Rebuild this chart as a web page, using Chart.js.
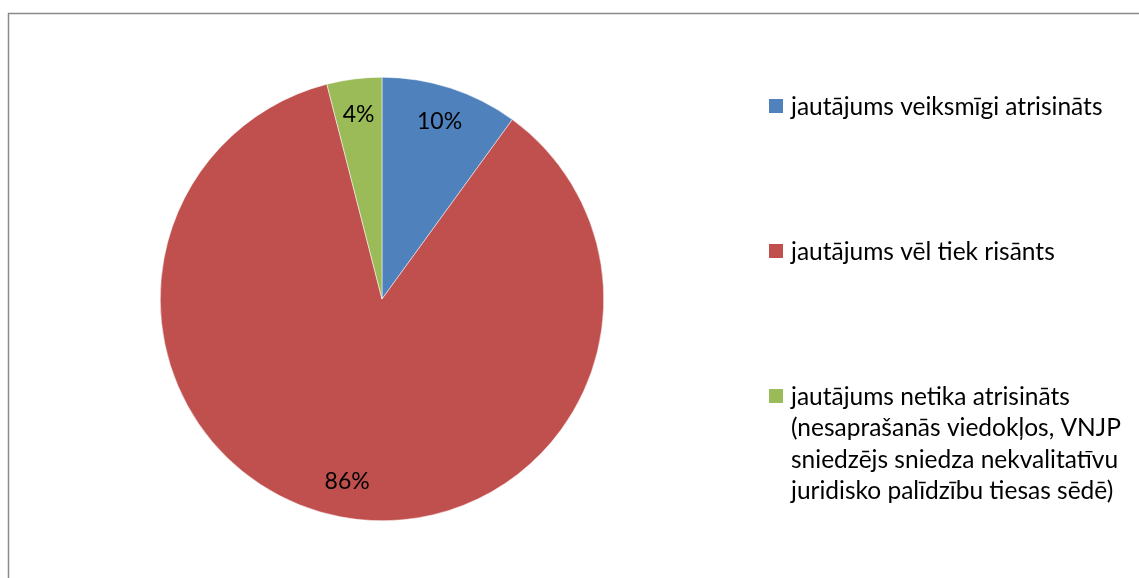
<!DOCTYPE html>
<html>
<head>
<meta charset="utf-8">
<script src="https://cdn.jsdelivr.net/npm/chart.js@4/dist/chart.umd.min.js"></script>
<style>
  html, body { margin: 0; padding: 0; background: #fff; }
  #wrap { width: 1139px; height: 578px; position: relative; }
</style>
</head>
<body>
<div id="wrap"><canvas id="c" width="1139" height="578"></canvas></div>
<script>
// ---- data ----
const categories = [
  ["jautājums veiksmīgi atrisināts"],
  ["jautājums vēl tiek risānts"],
  ["jautājums netika atrisināts", "(nesaprašanās viedokļos, VNJP", "sniedzējs sniedza nekvalitatīvu", "juridisko palīdzību tiesas sēdē)"]
];
const values = [10, 86, 4];
const valueLabels = ["10%", "86%", "4%"];
const colors = ["#4F81BD", "#C0504D", "#9BBB59"];

const FONT = "Lato, 'Open Sans', sans-serif";

const framePlugin = {
  id: 'frame',
  beforeDraw(chart) {
    const ctx = chart.ctx;
    ctx.save();
    ctx.fillStyle = '#fff';
    ctx.fillRect(0, 0, chart.width, chart.height);
    ctx.strokeStyle = '#8a8a8a';
    ctx.lineWidth = 1.5;
    ctx.strokeRect(8.5, 13.5, 1200, 700);
    ctx.restore();
  }
};

const labelPlugin = {
  id: 'pieLabels',
  afterDatasetsDraw(chart) {
    const ctx = chart.ctx;
    const meta = chart.getDatasetMeta(0);
    ctx.save();
    ctx.font = "23px " + FONT;
    ctx.fillStyle = '#000';
    ctx.textAlign = 'center';
    ctx.textBaseline = 'middle';
    meta.data.forEach((arc, i) => {
      const p = arc.getProps(['x', 'y', 'startAngle', 'endAngle', 'outerRadius'], true);
      const mid = (p.startAngle + p.endAngle) / 2;
      const r = p.outerRadius * 0.84;
      ctx.fillText(valueLabels[i], p.x + Math.cos(mid) * r, p.y + Math.sin(mid) * r);
    });
    ctx.restore();
  }
};

const legendPlugin = {
  id: 'sideLegend',
  afterDraw(chart) {
    const ctx = chart.ctx;
    const x0 = 769, box = 14, textX = 791;
    const firstY = 106, gap = 145, lineH = 31.5;
    ctx.save();
    ctx.font = "24.5px " + FONT;
    ctx.textBaseline = 'middle';
    ctx.textAlign = 'left';
    chart.data.labels.forEach((lbl, i) => {
      const y = firstY + i * gap;
      ctx.fillStyle = chart.data.datasets[0].backgroundColor[i];
      ctx.fillRect(x0, y - box / 2, box, box);
      ctx.fillStyle = '#000';
      const lines = Array.isArray(lbl) ? lbl : [lbl];
      lines.forEach((ln, j) => ctx.fillText(ln, textX, y + 1 + j * lineH));
    });
    ctx.restore();
  }
};

new Chart(document.getElementById('c'), {
  type: 'pie',
  data: {
    labels: categories,
    datasets: [{
      data: values,
      backgroundColor: colors,
      borderColor: '#ffffff',
      borderWidth: 0.5
    }]
  },
  options: {
    responsive: false,
    animation: false,
    devicePixelRatio: 1,
    layout: { padding: { left: 160, right: 535, top: 77, bottom: 57 } },
    plugins: {
      legend: { display: false },
      tooltip: { enabled: false },
      title: { display: false }
    }
  },
  plugins: [framePlugin, labelPlugin, legendPlugin]
});
</script>
</body>
</html>
